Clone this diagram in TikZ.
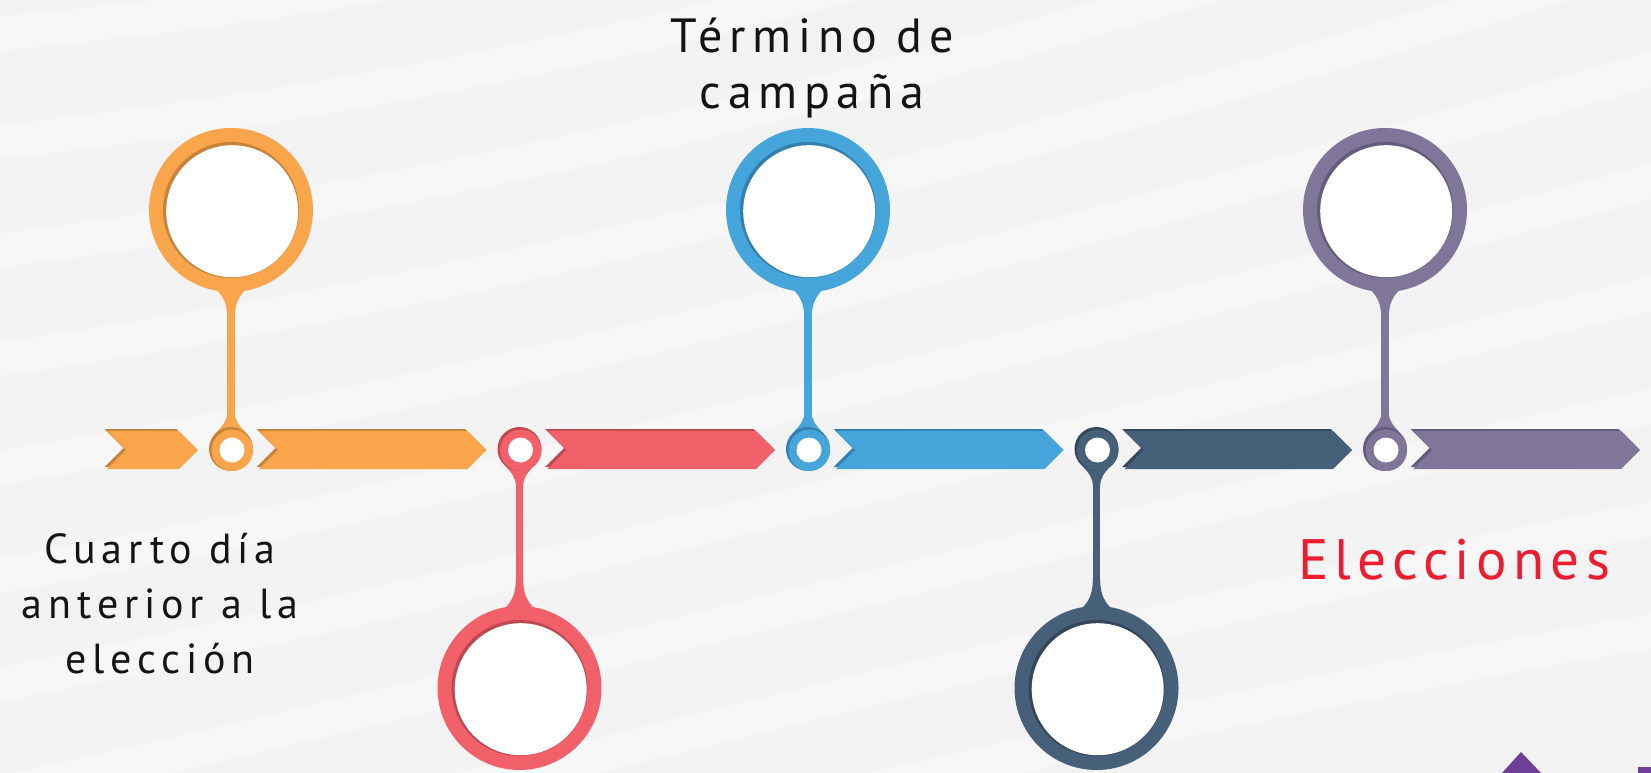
\documentclass[tikz,border=0pt]{standalone}
\usepackage{fontspec}
\setmainfont{PT Sans}
\newfontfamily\wide[LetterSpace=14]{PT Sans}
\newfontfamily\wider[LetterSpace=11]{PT Sans}
\usetikzlibrary{calc}
\definecolor{BG}{RGB}{243,243,243}
\definecolor{O}{RGB}{249,165,75}
\definecolor{Od}{RGB}{200,130,58}
\definecolor{R}{RGB}{242,96,106}
\definecolor{Rd}{RGB}{192,72,82}
\definecolor{B}{RGB}{70,166,219}
\definecolor{Bd}{RGB}{50,128,176}
\definecolor{N}{RGB}{71,96,121}
\definecolor{Nd}{RGB}{52,70,92}
\definecolor{P}{RGB}{127,118,153}
\definecolor{Pd}{RGB}{100,92,125}
\definecolor{E}{RGB}{237,28,46}
\definecolor{L}{RGB}{111,63,152}
\definecolor{T}{RGB}{20,20,20}

% arrow band: left x, right x, colour, dark colour
\newcommand{\band}[4]{%
  \fill[#4] (#1-2.5,429) -- (#2-21.5,429) -- (#2-2.5,448) -- (#2-21.5,467) -- (#1-2.5,467) -- (#1+16.5,448) -- cycle;
  \fill[#3] (#1,431) -- (#2-19,431) -- (#2,450) -- (#2-19,469) -- (#1,469) -- (#1+19,450) -- cycle;
}
% big circle at a named point: name, colour, dark colour, +1 above / -1 below
\newcommand{\bigpin}[4]{%
  \begin{scope}[shift={(#1)}, yscale=#4]
    \fill[#2] (-30,71) .. controls (-10,79) and (-3.6,90) .. (-3.6,110) -- (3.6,110) .. controls (3.6,90) and (10,79) .. (30,71) -- (0,40) -- cycle;
  \end{scope}
  \fill[#2] (#1) circle (82pt);
  \fill[#3] (#1) circle (68pt);
  \fill[white] ($(#1)+(1.2,1.2)$) circle (66pt);
}
% small ring on the line: name, colour, dark colour, +1 stem above / -1 below
\newcommand{\dotpin}[4]{%
  \begin{scope}[shift={(#1)}, yscale=#4]
    \fill[#2] (-3.6,-38) .. controls (-3.6,-28) and (-8,-24) .. (-15,-16) -- (15,-16) .. controls (8,-24) and (3.6,-28) .. (3.6,-38) -- cycle;
  \end{scope}
  \fill[#3] (#1) circle (22pt);
  \fill[#2] ($(#1)+(1.3,1.3)$) circle (20.7pt);
  \fill[white] ($(#1)+(1,1)$) circle (12.5pt);
}

\begin{document}
\begin{tikzpicture}[x=1pt, y=-1pt]
  \useasboundingbox (0,0) rectangle (1651,773);
  \fill[BG] (0,0) rectangle (1651,773);
  % soft streaks in the background
  \foreach \k in {0,...,9}
    \draw[white, line width=34pt, opacity=0.35, line cap=round]
      (-80,40+110*\k) .. controls (450,0+100*\k) and (1000,-120+95*\k) .. (1750,-420+115*\k);
  \foreach \k in {0,...,9}
    \draw[black!5, line width=12pt, opacity=0.3, line cap=round]
      (-80,95+110*\k) .. controls (450,55+100*\k) and (1000,-65+95*\k) .. (1750,-365+115*\k);

  % timeline bands
  \band{107}{198}{O}{Od}
  \band{259}{486.5}{O}{Od}
  \band{547.5}{775}{R}{Rd}
  \band{836}{1063.5}{B}{Bd}
  \band{1124.5}{1352}{N}{Nd}
  \band{1413}{1640}{P}{Pd}

  % points
  \coordinate (d1) at (231,449);
  \coordinate (d2) at (519.5,449);
  \coordinate (d3) at (808,449);
  \coordinate (d4) at (1096.5,449);
  \coordinate (d5) at (1385,449);
  \coordinate (p1) at (231,210);
  \coordinate (p2) at (519.5,688);
  \coordinate (p3) at (808,210);
  \coordinate (p4) at (1096.5,688);
  \coordinate (p5) at (1385,210);

  % stems
  \draw[O, line width=7.2pt] (p1) -- (d1);
  \draw[R, line width=7.2pt] (p2) -- (d2);
  \draw[B, line width=7.2pt] (p3) -- (d3);
  \draw[N, line width=7.2pt] (p4) -- (d4);
  \draw[P, line width=7.2pt] (p5) -- (d5);

  \bigpin{p1}{O}{Od}{1}
  \bigpin{p2}{R}{Rd}{-1}
  \bigpin{p3}{B}{Bd}{1}
  \bigpin{p4}{N}{Nd}{-1}
  \bigpin{p5}{P}{Pd}{1}
  \dotpin{d1}{O}{Od}{1}
  \dotpin{d2}{R}{Rd}{-1}
  \dotpin{d3}{B}{Bd}{1}
  \dotpin{d4}{N}{Nd}{-1}
  \dotpin{d5}{P}{Pd}{1}

  % labels
  \node[T, font=\wide\fontsize{48}{56}\selectfont, align=center] (t1) at (812,68) {Término de\\campaña};
  \node[T, font=\wide\fontsize{42}{55}\selectfont, align=center] (t2) at (160,604) {Cuarto día\\anterior a la\\elección};
  \node[E, font=\wider\fontsize{57}{60}\selectfont, anchor=base] (t3) at (1454,579) {Elecciones};

  % corner mark
  \fill[L] (1502,773) -- (1521,752) -- (1541,773) -- cycle;
  \fill[L] (1638,767) rectangle (1651,773);
\end{tikzpicture}
\end{document}
